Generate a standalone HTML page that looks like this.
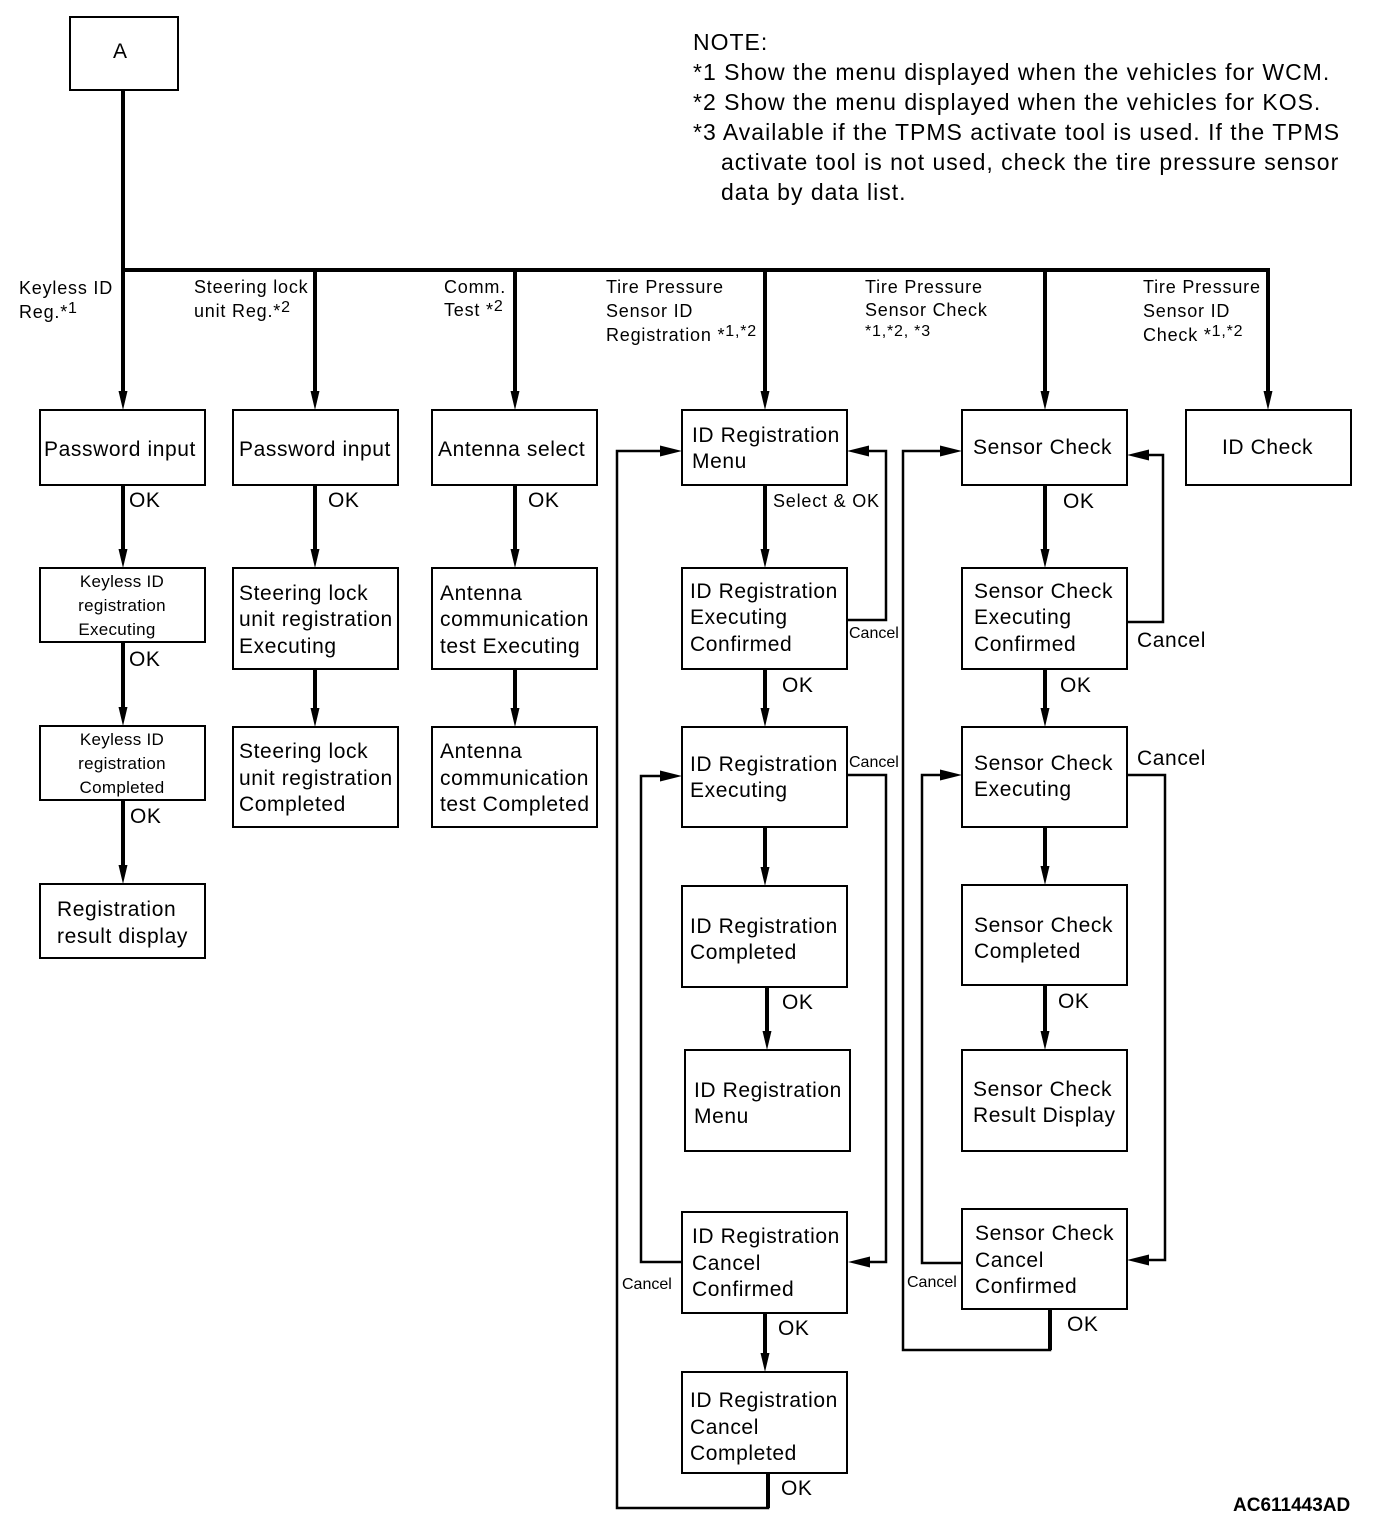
<!DOCTYPE html>
<html><head><meta charset="utf-8"><style>
html,body{margin:0;padding:0;background:#fff}
svg{display:block}
text{font-family:"Liberation Sans",Arial,sans-serif;fill:#000}
.b{fill:#fff;stroke:#000;stroke-width:2}
.t{font-size:21px;letter-spacing:0.6px}
.s{font-size:18px;letter-spacing:0.8px}
.k{font-size:17px;letter-spacing:0.3px}
.x{font-size:16px}
.th{stroke:#000;stroke-width:4;fill:none}
.tn{stroke:#000;stroke-width:2.5;fill:none}
</style></head><body>
<svg width="1392" height="1540" viewBox="0 0 1392 1540" xmlns="http://www.w3.org/2000/svg">
<defs>
<polygon id="ad" points="-4.5,-19 4.5,-19 0,0"/>
<polygon id="al" points="0,0 22,-5.5 22,5.5"/>
<polygon id="ar" points="0,0 -22,-5.5 -22,5.5"/>
</defs>
<rect class="b" x="70" y="17" width="108" height="73"/>
<text class="t" x="113" y="58">A</text>
<g style="font-size:23px;letter-spacing:1px">
<text x="693" y="50">NOTE:</text>
<text x="693" y="80">*1 Show the menu displayed when the vehicles for WCM.</text>
<text x="693" y="110">*2 Show the menu displayed when the vehicles for KOS.</text>
<text x="693" y="140">*3 Available if the TPMS activate tool is used. If the TPMS</text>
<text x="721" y="170">activate tool is not used, check the tire pressure sensor</text>
<text x="721" y="200">data by data list.</text>
</g>
<path class="th" d="M123 90V270M121 270H1270M123 270V395M315 270V395M515 270V395M765 270V395M1045 270V395M1268 270V395"/>
<use href="#ad" x="123" y="410"/><use href="#ad" x="315" y="410"/><use href="#ad" x="515" y="410"/>
<use href="#ad" x="765" y="410"/><use href="#ad" x="1045" y="410"/><use href="#ad" x="1268" y="410"/>
<g class="s">
<text x="19" y="294">Keyless ID</text><text x="19" y="318">Reg.*<tspan dy="-5" font-size="16">1</tspan></text>
<text x="194" y="293">Steering lock</text><text x="194" y="317">unit Reg.*<tspan dy="-5" font-size="16">2</tspan></text>
<text x="444" y="293">Comm.</text><text x="444" y="316">Test *<tspan dy="-5" font-size="16">2</tspan></text>
<text x="606" y="293">Tire Pressure</text><text x="606" y="317">Sensor ID</text><text x="606" y="341">Registration *<tspan dy="-5" font-size="16">1,*2</tspan></text>
<text x="865" y="293">Tire Pressure</text><text x="865" y="316">Sensor Check</text><text x="865" y="336" font-size="16">*1,*2, *3</text>
<text x="1143" y="293">Tire Pressure</text><text x="1143" y="317">Sensor ID</text><text x="1143" y="341">Check *<tspan dy="-5" font-size="16">1,*2</tspan></text>
</g>
<path class="th" d="M123 485V552M123 642V710M123 800V868"/>
<use href="#ad" x="123" y="568"/><use href="#ad" x="123" y="726"/><use href="#ad" x="123" y="884"/>
<rect class="b" x="40" y="410" width="165" height="75"/><text class="t" x="44" y="456">Password input</text>
<rect class="b" x="40" y="568" width="165" height="74"/>
<g class="k" text-anchor="middle"><text x="122" y="587">Keyless ID</text><text x="122" y="611">registration</text><text x="117" y="635">Executing</text></g>
<rect class="b" x="40" y="726" width="165" height="74"/>
<g class="k" text-anchor="middle"><text x="122" y="745">Keyless ID</text><text x="122" y="769">registration</text><text x="122" y="793">Completed</text></g>
<rect class="b" x="40" y="884" width="165" height="74"/>
<text class="t" x="57" y="916">Registration</text><text class="t" x="57" y="943">result display</text>
<g class="t"><text x="129" y="507">OK</text><text x="129" y="666">OK</text><text x="130" y="823">OK</text></g>
<path class="th" d="M315 485V552M315 669V711"/>
<use href="#ad" x="315" y="568"/><use href="#ad" x="315" y="727"/>
<rect class="b" x="233" y="410" width="165" height="75"/><text class="t" x="239" y="456">Password input</text>
<rect class="b" x="233" y="568" width="165" height="101"/>
<g class="t"><text x="239" y="600">Steering lock</text><text x="239" y="626">unit registration</text><text x="239" y="653">Executing</text></g>
<rect class="b" x="233" y="727" width="165" height="100"/>
<g class="t"><text x="239" y="758">Steering lock</text><text x="239" y="785">unit registration</text><text x="239" y="811">Completed</text></g>
<text class="t" x="328" y="507">OK</text>
<path class="th" d="M515 485V552M515 669V711"/>
<use href="#ad" x="515" y="568"/><use href="#ad" x="515" y="727"/>
<rect class="b" x="432" y="410" width="165" height="75"/><text class="t" x="438" y="456">Antenna select</text>
<rect class="b" x="432" y="568" width="165" height="101"/>
<g class="t"><text x="440" y="600">Antenna</text><text x="440" y="626">communication</text><text x="440" y="653">test Executing</text></g>
<rect class="b" x="432" y="727" width="165" height="100"/>
<g class="t"><text x="440" y="758">Antenna</text><text x="440" y="785">communication</text><text x="440" y="811">test Completed</text></g>
<text class="t" x="528" y="507">OK</text>
<path class="th" d="M765 485V552M765 669V711M765 827V870M767 987V1034M765 1313V1356"/>
<use href="#ad" x="765" y="568"/><use href="#ad" x="765" y="727"/><use href="#ad" x="765" y="886"/>
<use href="#ad" x="767" y="1050"/><use href="#ad" x="765" y="1372"/>
<path class="tn" d="M847 620H886V451H860M847 775H886V1262H860M682 1262H641V776H670M768 1473V1508H617V451H670"/>
<path class="th" d="M768 1473V1508"/>
<use href="#al" x="847" y="451"/><use href="#al" x="848" y="1262"/>
<use href="#ar" x="682" y="776"/><use href="#ar" x="682" y="451"/>
<rect class="b" x="682" y="410" width="165" height="75"/>
<g class="t"><text x="692" y="442">ID Registration</text><text x="692" y="468">Menu</text></g>
<rect class="b" x="682" y="568" width="165" height="101"/>
<g class="t"><text x="690" y="598">ID Registration</text><text x="690" y="624">Executing</text><text x="690" y="651">Confirmed</text></g>
<rect class="b" x="682" y="727" width="165" height="100"/>
<g class="t"><text x="690" y="771">ID Registration</text><text x="690" y="797">Executing</text></g>
<rect class="b" x="682" y="886" width="165" height="101"/>
<g class="t"><text x="690" y="933">ID Registration</text><text x="690" y="959">Completed</text></g>
<rect class="b" x="685" y="1050" width="165" height="101"/>
<g class="t"><text x="694" y="1097">ID Registration</text><text x="694" y="1123">Menu</text></g>
<rect class="b" x="682" y="1212" width="165" height="101"/>
<g class="t"><text x="692" y="1243">ID Registration</text><text x="692" y="1270">Cancel</text><text x="692" y="1296">Confirmed</text></g>
<rect class="b" x="682" y="1372" width="165" height="101"/>
<g class="t"><text x="690" y="1407">ID Registration</text><text x="690" y="1434">Cancel</text><text x="690" y="1460">Completed</text></g>
<text class="s" x="773" y="507">Select &amp; OK</text>
<text class="x" x="849" y="638">Cancel</text><text class="x" x="849" y="767">Cancel</text>
<text class="x" x="622" y="1289">Cancel</text>
<g class="t"><text x="782" y="692">OK</text><text x="782" y="1009">OK</text><text x="778" y="1335">OK</text><text x="781" y="1495">OK</text></g>
<path class="th" d="M1045 485V552M1045 669V711M1045 827V869M1045 985V1034"/>
<use href="#ad" x="1045" y="568"/><use href="#ad" x="1045" y="727"/><use href="#ad" x="1045" y="885"/><use href="#ad" x="1045" y="1050"/>
<path class="tn" d="M1127 622H1163V455H1140M1127 775H1165V1260H1140M962 1263H922V775H950M1050 1309V1350H903V451H950"/>
<path class="th" d="M1050 1309V1350"/>
<use href="#al" x="1127" y="455"/><use href="#al" x="1127" y="1260"/>
<use href="#ar" x="962" y="775"/><use href="#ar" x="962" y="451"/>
<rect class="b" x="962" y="410" width="165" height="75"/><text class="t" x="973" y="454">Sensor Check</text>
<rect class="b" x="962" y="568" width="165" height="101"/>
<g class="t"><text x="974" y="598">Sensor Check</text><text x="974" y="624">Executing</text><text x="974" y="651">Confirmed</text></g>
<rect class="b" x="962" y="727" width="165" height="100"/>
<g class="t"><text x="974" y="770">Sensor Check</text><text x="974" y="796">Executing</text></g>
<rect class="b" x="962" y="885" width="165" height="100"/>
<g class="t"><text x="974" y="932">Sensor Check</text><text x="974" y="958">Completed</text></g>
<rect class="b" x="962" y="1050" width="165" height="101"/>
<g class="t"><text x="973" y="1096">Sensor Check</text><text x="973" y="1122">Result Display</text></g>
<rect class="b" x="962" y="1209" width="165" height="100"/>
<g class="t"><text x="975" y="1240">Sensor Check</text><text x="975" y="1267">Cancel</text><text x="975" y="1293">Confirmed</text></g>
<g class="t"><text x="1063" y="508">OK</text><text x="1060" y="692">OK</text><text x="1058" y="1008">OK</text><text x="1067" y="1331">OK</text>
<text x="1137" y="647">Cancel</text><text x="1137" y="765">Cancel</text></g>
<text class="x" x="907" y="1287">Cancel</text>
<rect class="b" x="1186" y="410" width="165" height="75"/><text class="t" x="1222" y="454">ID Check</text>
<text x="1233" y="1511" style="font-size:19px;font-weight:bold">AC611443AD</text>
</svg>
</body></html>
